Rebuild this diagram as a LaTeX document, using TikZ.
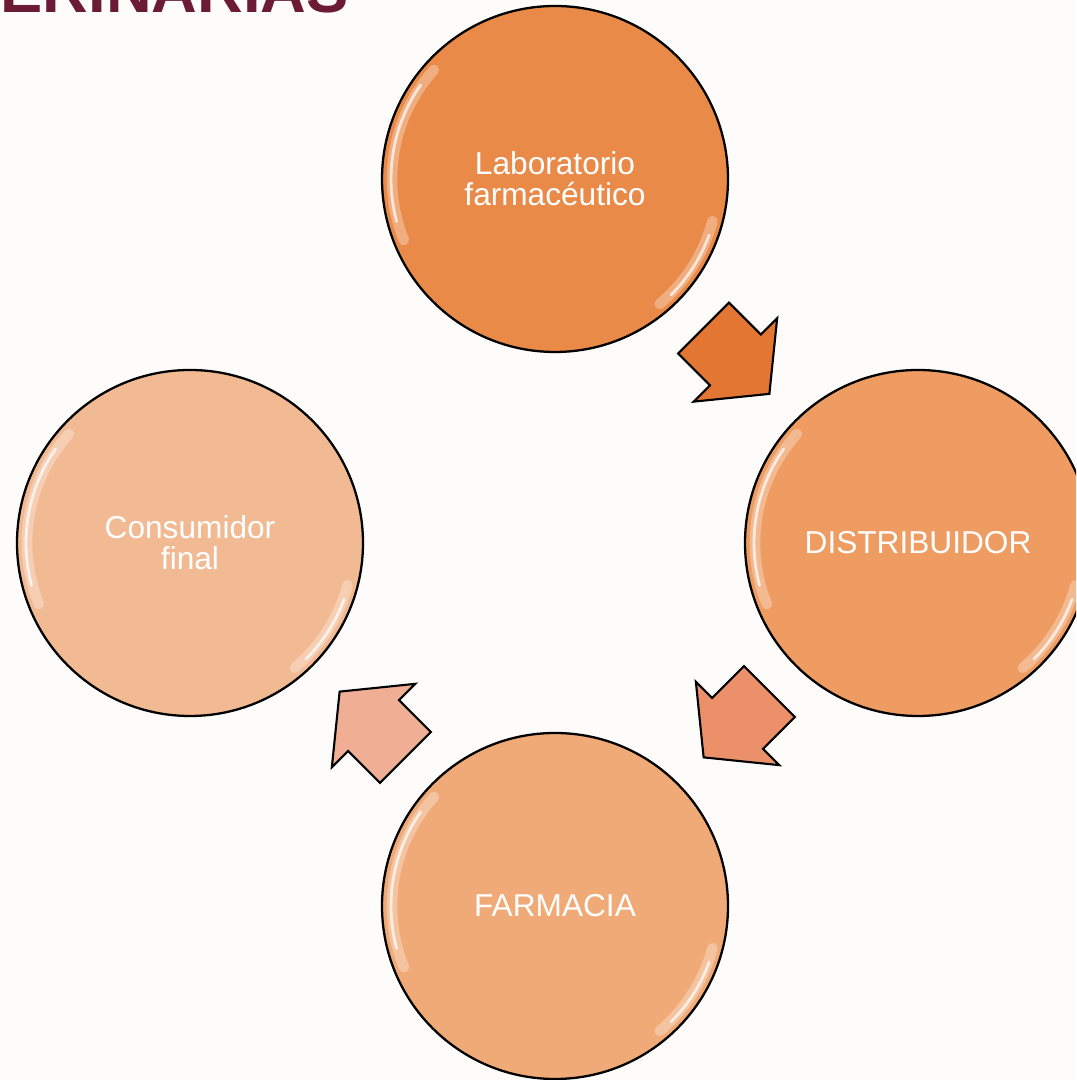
\documentclass[tikz,border=0pt]{standalone}
\usepackage{fontspec}
\setmainfont{Liberation Sans}
\usepackage{tikz}
\usetikzlibrary{calc,positioning}
\definecolor{stageA}{RGB}{234,138,72}
\definecolor{stageB}{RGB}{238,156,98}
\definecolor{stageC}{RGB}{240,170,119}
\definecolor{stageD}{RGB}{242,186,147}
\definecolor{flowA}{RGB}{226,118,50}
\definecolor{flowB}{RGB}{235,144,104}
\definecolor{flowC}{RGB}{240,174,148}
\definecolor{titleRed}{RGB}{108,27,54}
\definecolor{paper}{RGB}{253,252,250}
\newcommand{\colorTikzA}{stageA}
\newcommand{\colorTikzB}{stageB}
\newcommand{\colorTikzC}{stageC}
\newcommand{\colorTikzD}{stageD}

\tikzset{
  stage/.style={circle, draw=black, line width=0.65pt, minimum size=3.46cm, inner sep=0pt,
    text=white, align=center, font=\fontsize{9}{8.9}\selectfont},
  blockarrow/.style={draw=black, line width=0.6pt, line join=miter},
  glosswide/.style={white, opacity=0.3, line width=3pt, line cap=round},
  gloss/.style={white, opacity=0.7, line width=0.8pt, line cap=round},
  titletext/.style={anchor=base west, inner sep=0pt, text=titleRed, font=\fontsize{18}{18}\selectfont\bfseries}
}

\begin{document}
\begin{tikzpicture}
        \useasboundingbox (0, 0) rectangle (10.76, 10.80);
        \clip (0, 0) rectangle (10.76, 10.80);
        \fill[paper] (0, 0) rectangle (10.76, 10.80);

        \node[titletext] (title) at (0.0, 10.67) {ERINARIAS};

        \node[stage, fill=\colorTikzA] (lab) at (5.55, 9.01) {Laboratorio\\farmacéutico};
        \node[stage, fill=\colorTikzB] (dist) at (9.18, 5.37) {DISTRIBUIDOR};
        \node[stage, fill=\colorTikzC] (farm) at (5.55, 1.74) {FARMACIA};
        \node[stage, fill=\colorTikzD] (cons) at (1.90, 5.37) {Consumidor\\final};

        % shine on the rims
        \foreach \n in {lab, dist, farm, cons} {
          \draw[glosswide] ([shift={(138:1.63)}]\n.center) arc[start angle=138, end angle=202, radius=1.63];
          \draw[gloss] ([shift={(145:1.64)}]\n.center) arc[start angle=145, end angle=195, radius=1.64];
          \draw[glosswide] ([shift={(-15:1.63)}]\n.center) arc[start angle=-15, end angle=-50, radius=1.63];
          \draw[gloss] ([shift={(-20:1.64)}]\n.center) arc[start angle=-20, end angle=-45, radius=1.64];
        }

        \draw[blockarrow, fill=flowA, shift={($(lab)!0.5!(dist)$)}, rotate=-45]
          (-0.465, -0.36) -- (-0.015, -0.36) -- (-0.015, -0.59) -- (0.465, 0) -- (-0.015, 0.59) -- (-0.015, 0.36) -- (-0.465, 0.36) -- cycle;
        \draw[blockarrow, fill=flowB, shift={($(dist)!0.5!(farm)$)}, rotate=-135]
          (-0.465, -0.36) -- (-0.015, -0.36) -- (-0.015, -0.59) -- (0.465, 0) -- (-0.015, 0.59) -- (-0.015, 0.36) -- (-0.465, 0.36) -- cycle;
        \draw[blockarrow, fill=flowC, shift={($(farm)!0.5!(cons)$)}, rotate=135]
          (-0.465, -0.36) -- (-0.015, -0.36) -- (-0.015, -0.59) -- (0.465, 0) -- (-0.015, 0.59) -- (-0.015, 0.36) -- (-0.465, 0.36) -- cycle;

\end{tikzpicture}
\end{document}
